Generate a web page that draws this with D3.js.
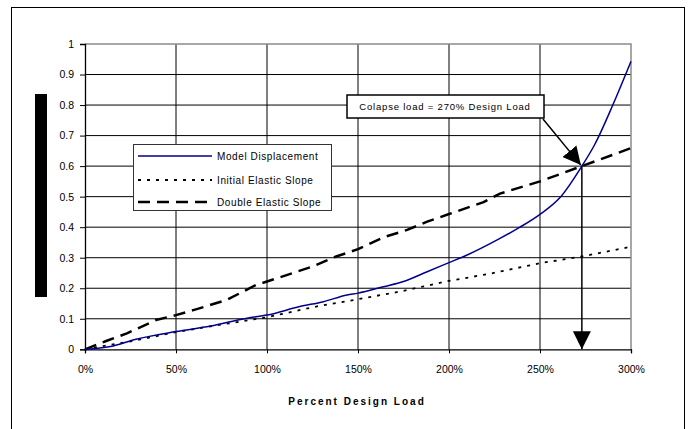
<!DOCTYPE html>
<html><head><meta charset="utf-8">
<script src="https://cdn.jsdelivr.net/npm/d3@7/dist/d3.min.js"></script>
<style>body{margin:0;background:#fff}svg{display:block;font-family:"Liberation Sans",Arial,sans-serif}</style>
</head><body><svg id="c" width="694" height="429"></svg>
<script>
// Data (x = percent design load, y = displacement)
const modelX = [0,14,28,50,69,89,100,118,131,144,150,164,175,188,200,210,227,239,250,261,273,280,290,300];
const modelY = [0,0.009,0.033,0.058,0.076,0.102,0.112,0.14,0.156,0.178,0.184,0.205,0.222,0.254,0.284,0.309,0.36,0.40,0.442,0.497,0.60,0.67,0.80,0.943];
const initX = [0,25,50,75,100,127,150,173,200,222,250,273,300];
const initY = [0,0.026,0.056,0.081,0.105,0.14,0.164,0.189,0.224,0.247,0.282,0.304,0.336];
const dblX = [0,12,23,39,50,60,78,94,100,125,138,150,164,177,188,200,219,228,250,273,300];
const dblY = [0,0.028,0.052,0.096,0.112,0.129,0.162,0.211,0.222,0.271,0.304,0.328,0.367,0.391,0.418,0.443,0.482,0.51,0.55,0.60,0.659];
const xTicks = [0,50,100,150,200,250,300];
const yTicks = [0,0.1,0.2,0.3,0.4,0.5,0.6,0.7,0.8,0.9,1];
const seriesNames = ["Model Displacement","Initial Elastic Slope","Double Elastic Slope"];
const collapse = {x:273, y:0.6, label:"Colapse load = 270% Design Load"};
const xTitle = "Percent Design Load";

const svg = d3.select("#c");
const L=85,R=631,T=44,B=349.3;
const x = d3.scaleLinear().domain([0,300]).range([L,R]);
const y = d3.scaleLinear().domain([0,1]).range([B,T]);

// outer border
svg.append("rect").attr("x",11.5).attr("y",7.5).attr("width",673).attr("height",440)
  .attr("fill","none").attr("stroke","#000").attr("stroke-width",1);

// black bar (y title)
svg.append("rect").attr("x",35).attr("y",94).attr("width",12).attr("height",203).attr("fill","#000");

// gridlines
const g = svg.append("g");
g.selectAll(".hg").data(yTicks.filter(d=>d>0 && d<1)).join("line")
  .attr("x1",L).attr("x2",R).attr("y1",d=>y(d)).attr("y2",d=>y(d)).attr("stroke","#000").attr("stroke-width",1);
g.selectAll(".vg").data(xTicks.filter(d=>d>0 && d<300)).join("line")
  .attr("y1",T).attr("y2",B).attr("x1",d=>x(d)).attr("x2",d=>x(d)).attr("stroke","#000").attr("stroke-width",1);
svg.append("path").attr("d",`M${L},${T}H${R}V${B}`).attr("fill","none").attr("stroke","#8a8a8a").attr("stroke-width",1.5);

// axes
const xa = svg.append("g").attr("transform",`translate(0,${B})`)
  .call(d3.axisBottom(x).tickValues(xTicks).tickFormat(d=>d+"%").tickSize(4).tickPadding(12));
const ya = svg.append("g").attr("transform",`translate(${L},0)`)
  .call(d3.axisLeft(y).tickValues(yTicks).tickFormat(d=>d===0?"0":d===1?"1":d3.format(".1f")(d)).tickSize(5).tickPadding(6));
[xa,ya].forEach(a=>{
  a.selectAll("path").attr("stroke","#000").attr("stroke-width",1.3);
  a.selectAll("line").attr("stroke","#000");
  a.selectAll("text").attr("font-size",10.5).attr("fill","#000").attr("font-family","Liberation Sans, Arial");
});

// title
svg.append("text").attr("x",357).attr("y",405).attr("text-anchor","middle")
  .attr("font-size",10).attr("font-weight","bold").attr("letter-spacing","2px").text(xTitle);

// lines
const line = d3.line().x(d=>x(d[0])).y(d=>y(d[1]));
const smooth = d3.line().x(d=>x(d[0])).y(d=>y(d[1])).curve(d3.curveMonotoneX);
const zip=(a,b)=>a.map((v,i)=>[v,b[i]]);
svg.append("path").attr("d",line(zip(dblX,dblY))).attr("fill","none").attr("stroke","#000")
  .attr("stroke-width",2.5).attr("stroke-dasharray","12,7");
svg.append("path").attr("d",line(zip(initX,initY))).attr("fill","none").attr("stroke","#000")
  .attr("stroke-width",1.8).attr("stroke-dasharray","3,6");
svg.append("path").attr("d",smooth(zip(modelX,modelY))).attr("fill","none").attr("stroke","#00008b")
  .attr("stroke-width",1.5);

// legend
const lg = svg.append("g");
lg.append("rect").attr("x",133.5).attr("y",144.5).attr("width",198).attr("height",66)
  .attr("fill","#fff").attr("stroke","#333").attr("stroke-width",1);
const styles=[{c:"#00008b",w:1.5,d:null},{c:"#000",w:1.8,d:"3,6"},{c:"#000",w:2.5,d:"12,7"}];
const ly=[156,180,202];
seriesNames.forEach((n,i)=>{
  lg.append("line").attr("x1",138).attr("x2",212).attr("y1",ly[i]).attr("y2",ly[i])
    .attr("stroke",styles[i].c).attr("stroke-width",styles[i].w).attr("stroke-dasharray",styles[i].d);
  lg.append("text").attr("x",217).attr("y",ly[i]+3.5).attr("font-size",10).attr("letter-spacing","0.6px").text(n);
});

// annotation
const px=x(collapse.x), py=y(collapse.y);
svg.append("rect").attr("x",347).attr("y",95).attr("width",197).attr("height",23)
  .attr("fill","#fff").attr("stroke","#000").attr("stroke-width",1.5);
svg.append("text").attr("x",445).attr("y",110).attr("text-anchor","middle").attr("font-size",9.5)
  .attr("letter-spacing","0.8px").text(collapse.label);
const defs = svg.append("defs");
defs.append("marker").attr("id","ah2").attr("viewBox","0 0 10 10").attr("refX",10).attr("refY",5)
  .attr("markerWidth",18).attr("markerHeight",20).attr("markerUnits","userSpaceOnUse").attr("orient","auto")
  .append("path").attr("d","M0,0L10,5L0,10Z").attr("fill","#000");
svg.append("line").attr("x1",543).attr("y1",119).attr("x2",px-1).attr("y2",py-1)
  .attr("stroke","#000").attr("stroke-width",1.5).attr("marker-end","url(#ah2)");
svg.append("line").attr("x1",px).attr("y1",py).attr("x2",px).attr("y2",y(0))
  .attr("stroke","#000").attr("stroke-width",1.5).attr("marker-end","url(#ah2)");
</script></body></html>
